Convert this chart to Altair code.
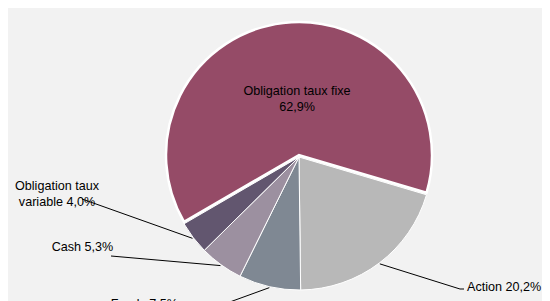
import math
import altair as alt
import pandas as pd

# ---- data ----
categories = ["Action", "Fonds", "Cash", "Obligation taux variable", "Obligation taux fixe"]
shares = [20.2, 7.5, 5.3, 4.0, 62.9]
label_texts = ["Action 20,2%", "Fonds 7,5%", "Cash 5,3%", "Obligation taux\nvariable 4,0%",
               "Obligation taux fixe\n62,9%"]
colors = ["#B8B8B8", "#7F8893", "#9C90A0", "#62566F", "#954B67"]

# ---- layout ----
W, H = 534, 295
CX, CY, R = 291, 149, 133
START_DEG = 106.5
start = math.radians(START_DEG)
total = sum(shares)

df = pd.DataFrame({"cat": categories, "share": shares, "ord": list(range(len(shares)))})

theta = alt.Theta("share:Q", stack=True,
                  scale=alt.Scale(domain=[0, total], range=[start, start + 2 * math.pi]))
color = alt.Color("cat:N", scale=alt.Scale(domain=categories, range=colors), legend=None)
order = alt.Order("ord:Q")

others = alt.Chart(df).mark_arc(stroke="white", strokeWidth=1).encode(
    theta=theta, color=color, order=order,
    x=alt.value(CX), y=alt.value(CY), radius=alt.value(R),
    opacity=alt.condition(alt.datum.cat == "Obligation taux fixe", alt.value(0), alt.value(1)),
)
fixe = alt.Chart(df).mark_arc(stroke="white", strokeWidth=2.5).encode(
    theta=theta, color=color, order=order,
    x=alt.value(CX), y=alt.value(CY - 2), radius=alt.value(R),
    opacity=alt.condition(alt.datum.cat == "Obligation taux fixe", alt.value(1), alt.value(0)),
)

# leader lines: start at the slice mid-angle on the rim (derived from the data)
cum = 0.0
mids = {}
for c, s in zip(categories, shares):
    mids[c] = start + 2 * math.pi * (cum + s / 2) / total
    cum += s

def rim(c, rr=R):
    a = mids[c]
    return CX + rr * math.sin(a), CY - rr * math.cos(a)

elbows = {
    "Action": [(452, 281), (456, 281)],
    "Fonds": [(208, 299)],
    "Cash": [(103, 248)],
    "Obligation taux variable": [(74, 191)],
}
segs = []
for c, pts in elbows.items():
    p0 = rim(c, R + 1)
    for p in pts:
        segs.append({"x": p0[0], "y": p0[1], "x2": p[0], "y2": p[1]})
        p0 = p
seg_df = pd.DataFrame(segs)

leaders = alt.Chart(seg_df).mark_rule(color="black", strokeWidth=1).encode(
    x=alt.X("x:Q", scale=None), y=alt.Y("y:Q", scale=None),
    x2="x2:Q", y2="y2:Q",
)

font = "Liberation Sans"
lab = pd.DataFrame({
    "t": label_texts,
    "x": [459, 170, 74.5, 49, 289],
    "y": [279, 296, 239, 178, 83],
    "al": ["left", "right", "center", "center", "center"],
})

def text_layer(al):
    return alt.Chart(lab).transform_filter(alt.datum.al == al).mark_text(
        align=al, baseline="middle", font=font, fontSize=12.6, color="#000000",
        lineBreak="\n", lineHeight=16,
    ).encode(x=alt.X("x:Q", scale=None), y=alt.Y("y:Q", scale=None), text="t:N")

chart = alt.layer(
    others, fixe, leaders, text_layer("left"), text_layer("right"), text_layer("center")
).properties(
    width=W, height=H, padding=0, autosize=alt.AutoSizeParams(type="none"),
    background="#F2F2F2",
).configure_view(stroke=None)

chart.save("out.html", embed_options={"renderer": "svg", "actions": False})
